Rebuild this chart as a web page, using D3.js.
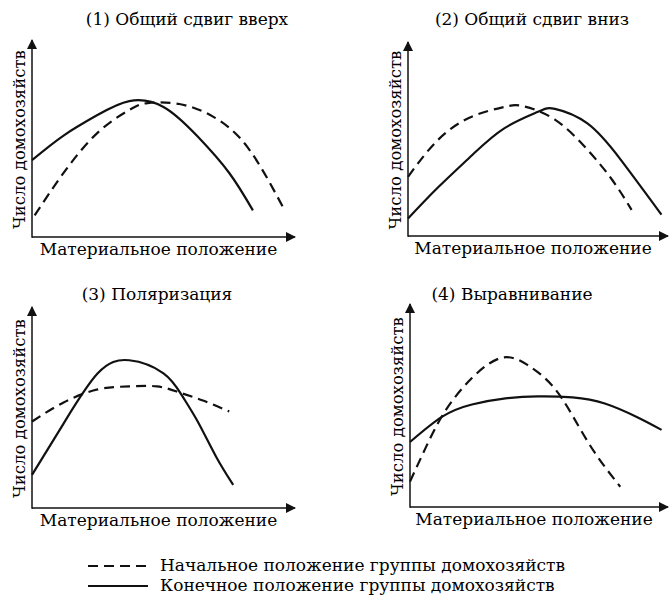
<!DOCTYPE html>
<html>
<head>
<meta charset="utf-8">
<script src="https://cdn.jsdelivr.net/npm/d3@7"></script>
<style>
  body { margin: 0; background: #fff; }
</style>
</head>
<body>
<svg></svg>
<script>
const w = 670;
const h = 597;
const font = '"DejaVu Serif", "Liberation Serif", serif';

const titles = [
  '(1) Общий сдвиг вверх',
  '(2) Общий сдвиг вниз',
  '(3) Поляризация',
  '(4) Выравнивание'
];
const xLabel = 'Материальное положение';
const yLabel = 'Число домохозяйств';
const legendLabels = [
  'Начальное положение группы домохозяйств',
  'Конечное положение группы домохозяйств'
];

// curves in axis units (0..100 on both axes)
const start1 = [[1, 11], [12, 32.5], [25, 53], [37, 64.5], [44, 68], [56, 67.5], [69, 61], [82, 45.5], [95.5, 15]];
const end1 = [[0, 39], [12, 51.5], [25, 62], [37, 69], [50, 66], [63, 51], [75, 32.5], [84, 13.5]];
const start2 = [[0, 30.5], [11.5, 49.5], [24.5, 61.5], [37, 66.5], [44, 67], [56.5, 60], [69, 44.5], [78.5, 29], [86, 13.5]];
const end2 = [[0, 9], [11.5, 25], [24.5, 41.5], [37, 55.5], [50, 64], [56.5, 65.5], [69, 58], [82, 39], [97.5, 11]];
const start3 = [[0, 43], [12, 52.5], [25, 59], [37, 60.5], [47.5, 60.5], [56, 57.5], [65, 53.5], [75, 48]];
const end3 = [[0, 16.5], [12, 42], [25, 67], [37, 73.5], [50, 67], [57, 56], [63, 43], [70, 25.5], [76.5, 11.5]];
const start4 = [[0, 12.5], [6, 29], [13.5, 47], [24, 63.5], [35.5, 73.5], [45.5, 70], [55, 60], [63, 45], [71.5, 27], [81.5, 10]];
const end4 = [[0, 32], [12.5, 44.5], [24, 50.5], [37, 53.5], [49.5, 54.5], [63, 54], [75.5, 51], [88.5, 44], [97.5, 38]];

const startCurves = [start1, start2, start3, start4];
const endCurves = [end1, end2, end3, end4];

const svg = d3.select('svg').attr('width', w).attr('height', h);

svg.append('defs')
  .append('marker')
  .attr('id', 'arrow')
  .attr('viewBox', '0 0 10 10')
  .attr('refX', 9)
  .attr('refY', 5)
  .attr('markerWidth', 10)
  .attr('markerHeight', 10)
  .attr('markerUnits', 'userSpaceOnUse')
  .attr('orient', 'auto')
  .append('path')
  .attr('d', 'M0,0 L10,5 L0,10 Z')
  .attr('fill', '#111');

// panel frames: axis origin x, right end, bottom y, top y, title position
const panels = [
  { x0: 32, x1: 295, y0: 237, y1: 40, tx: 187, ty: 25 },
  { x0: 408, x1: 668, y0: 236, y1: 42, tx: 532, ty: 25 },
  { x0: 32, x1: 295, y0: 508, y1: 307, tx: 157, ty: 300 },
  { x0: 410, x1: 668, y0: 507, y1: 304, tx: 512, ty: 300 }
];

panels.forEach((p, i) => {
  const g = svg.append('g');
  const x = d3.scaleLinear().domain([0, 100]).range([p.x0, p.x1]);
  const y = d3.scaleLinear().domain([0, 100]).range([p.y0, p.y1]);

  const line = d3.line()
    .x(d => x(d[0]))
    .y(d => y(d[1]))
    .curve(d3.curveNatural);

  // axes
  g.append('line')
    .attr('x1', p.x0).attr('y1', p.y0 + 0.75)
    .attr('x2', p.x0).attr('y2', p.y1)
    .attr('stroke', '#111').attr('stroke-width', 1.5)
    .attr('marker-end', 'url(#arrow)');
  g.append('line')
    .attr('x1', p.x0).attr('y1', p.y0)
    .attr('x2', p.x1).attr('y2', p.y0)
    .attr('stroke', '#111').attr('stroke-width', 1.5)
    .attr('marker-end', 'url(#arrow)');

  g.append('path')
    .attr('d', line(startCurves[i]))
    .attr('fill', 'none')
    .attr('stroke', '#111')
    .attr('stroke-width', 2.2)
    .attr('stroke-dasharray', '10,6');

  g.append('path')
    .attr('d', line(endCurves[i]))
    .attr('fill', 'none')
    .attr('stroke', '#111')
    .attr('stroke-width', 2.2);

  g.append('text')
    .text(titles[i])
    .attr('x', p.tx)
    .attr('y', p.ty)
    .attr('text-anchor', 'middle')
    .style('font-family', font)
    .style('font-size', '17px');

  g.append('text')
    .text(xLabel)
    .attr('x', (p.x0 + p.x1) / 2 - 5)
    .attr('y', p.y0 + 18)
    .attr('text-anchor', 'middle')
    .style('font-family', font)
    .style('font-size', '17px');

  g.append('text')
    .text(yLabel)
    .attr('transform', `translate(${p.x0 - 7},${(p.y0 + p.y1) / 2 + 1}) rotate(-90)`)
    .attr('text-anchor', 'middle')
    .style('font-family', font)
    .style('font-size', '16.5px');
});

// legend
const legend = svg.append('g');
legendLabels.forEach((label, i) => {
  const ly = 566 + i * 20;
  legend.append('line')
    .attr('x1', 88).attr('x2', 148)
    .attr('y1', ly).attr('y2', ly)
    .attr('stroke', '#111')
    .attr('stroke-width', 2)
    .attr('stroke-dasharray', i === 0 ? '10,6' : null);
  legend.append('text')
    .text(label)
    .attr('x', 160)
    .attr('y', ly + 5)
    .style('font-family', font)
    .style('font-size', '17px');
});
</script>
</body>
</html>
